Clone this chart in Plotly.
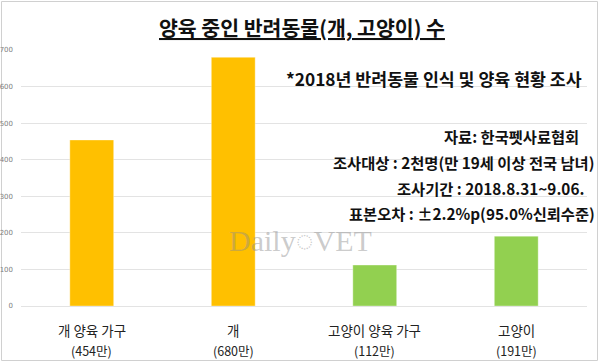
import plotly.graph_objects as go

categories = ["개 양육 가구", "개", "고양이 양육 가구", "고양이"]
values = [454, 680, 112, 191]
value_labels = ["(454만)", "(680만)", "(112만)", "(191만)"]
bar_colors = ["#FFC000", "#FFC000", "#92D050", "#92D050"]
y_ticks = [0, 100, 200, 300, 400, 500, 600, 700]

title_text = "양육 중인 반려동물(개, 고양이) 수"
survey_text = "*2018년 반려동물 인식 및 양육 현황 조사"
info_lines = [
    "자료: 한국펫사료협회",
    "조사대상 : 2천명(만 19세 이상 전국 남녀)",
    "조사기간 : 2018.8.31~9.06.",
    "표본오차 : ±2.2%p(95.0%신뢰수준)",
]

FONT = "Noto Sans CJK KR"
W, H = 600, 363
L, R, T, B = 21, 13, 50, 57
pw, ph = W - L - R, H - T - B

def px(x):
    return (x - L) / pw

def py(y):
    return (H - B - y) / ph

fig = go.Figure()
fig.add_trace(go.Bar(
    x=categories, y=values,
    marker=dict(color=bar_colors, line=dict(color="rgba(255,255,255,0.35)", width=1)),
    width=0.31,
    hoverinfo="skip",
))

annotations = [
    dict(text=f"<b>{title_text}</b>", x=px(302), y=py(27), xref="paper", yref="paper",
         xanchor="center", yanchor="middle", showarrow=False,
         font=dict(family=FONT, size=20.5, color="#111111", lineposition="under")),
    dict(text=f"<b>{survey_text}</b>", x=px(584), y=py(78), xref="paper", yref="paper",
         xanchor="right", yanchor="middle", showarrow=False,
         font=dict(family=FONT, size=17.3, color="#111111")),
    dict(text="Daily\u25CCVET", x=px(300), y=py(240), xref="paper", yref="paper",
         xanchor="center", yanchor="middle", showarrow=False,
         font=dict(family="Liberation Serif", size=30, color="rgba(140,140,140,0.45)")),
]
info_pos = [(581, 136), (596, 162), (586, 188), (597, 213)]
for t, (x, y) in zip(info_lines, info_pos):
    annotations.append(dict(text=f"<b>{t}</b>", x=px(x), y=py(y), xref="paper", yref="paper",
                            xanchor="right", yanchor="middle", showarrow=False,
                            font=dict(family=FONT, size=15.3, color="#111111")))

for c, v in zip(categories, value_labels):
    annotations.append(dict(text=c, x=c, y=py(330), xref="x", yref="paper",
                            xanchor="center", yanchor="middle", showarrow=False,
                            font=dict(family=FONT, size=13.5, color="#222222")))
    annotations.append(dict(text=v, x=c, y=py(350), xref="x", yref="paper",
                            xanchor="center", yanchor="middle", showarrow=False,
                            font=dict(family=FONT, size=12.5, color="#222222")))

fig.update_layout(
    width=W, height=H,
    margin=dict(l=L, r=R, t=T, b=B, autoexpand=False),
    paper_bgcolor="white", plot_bgcolor="white",
    showlegend=False,
    bargap=0.69,
    annotations=annotations,
    shapes=[dict(type="rect", xref="paper", yref="paper",
                 x0=px(1.5), x1=px(597.5), y0=py(360.5), y1=py(1.5),
                 line=dict(color="#D0D0D0", width=1), layer="below")],
    xaxis=dict(
        automargin=False, showticklabels=False,
        showgrid=False, showline=False, ticks="",
        range=[-0.5, 3.5],
    ),
    yaxis=dict(
        automargin=False,
        range=[0, 700], tickvals=y_ticks,
        tickfont=dict(family="DejaVu Sans", size=7, color="#808080"),
        showgrid=True, gridcolor="#E3E3E3", gridwidth=1,
        zeroline=True, zerolinecolor="#E3E3E3", zerolinewidth=1,
        showline=False, ticks="", ticklabelstandoff=7,
    ),
)

fig.write_html(
    "out.html",
    config={"displayModeBar": False},
    post_script="document.body.style.margin='0';document.body.style.overflow='hidden';",
)
